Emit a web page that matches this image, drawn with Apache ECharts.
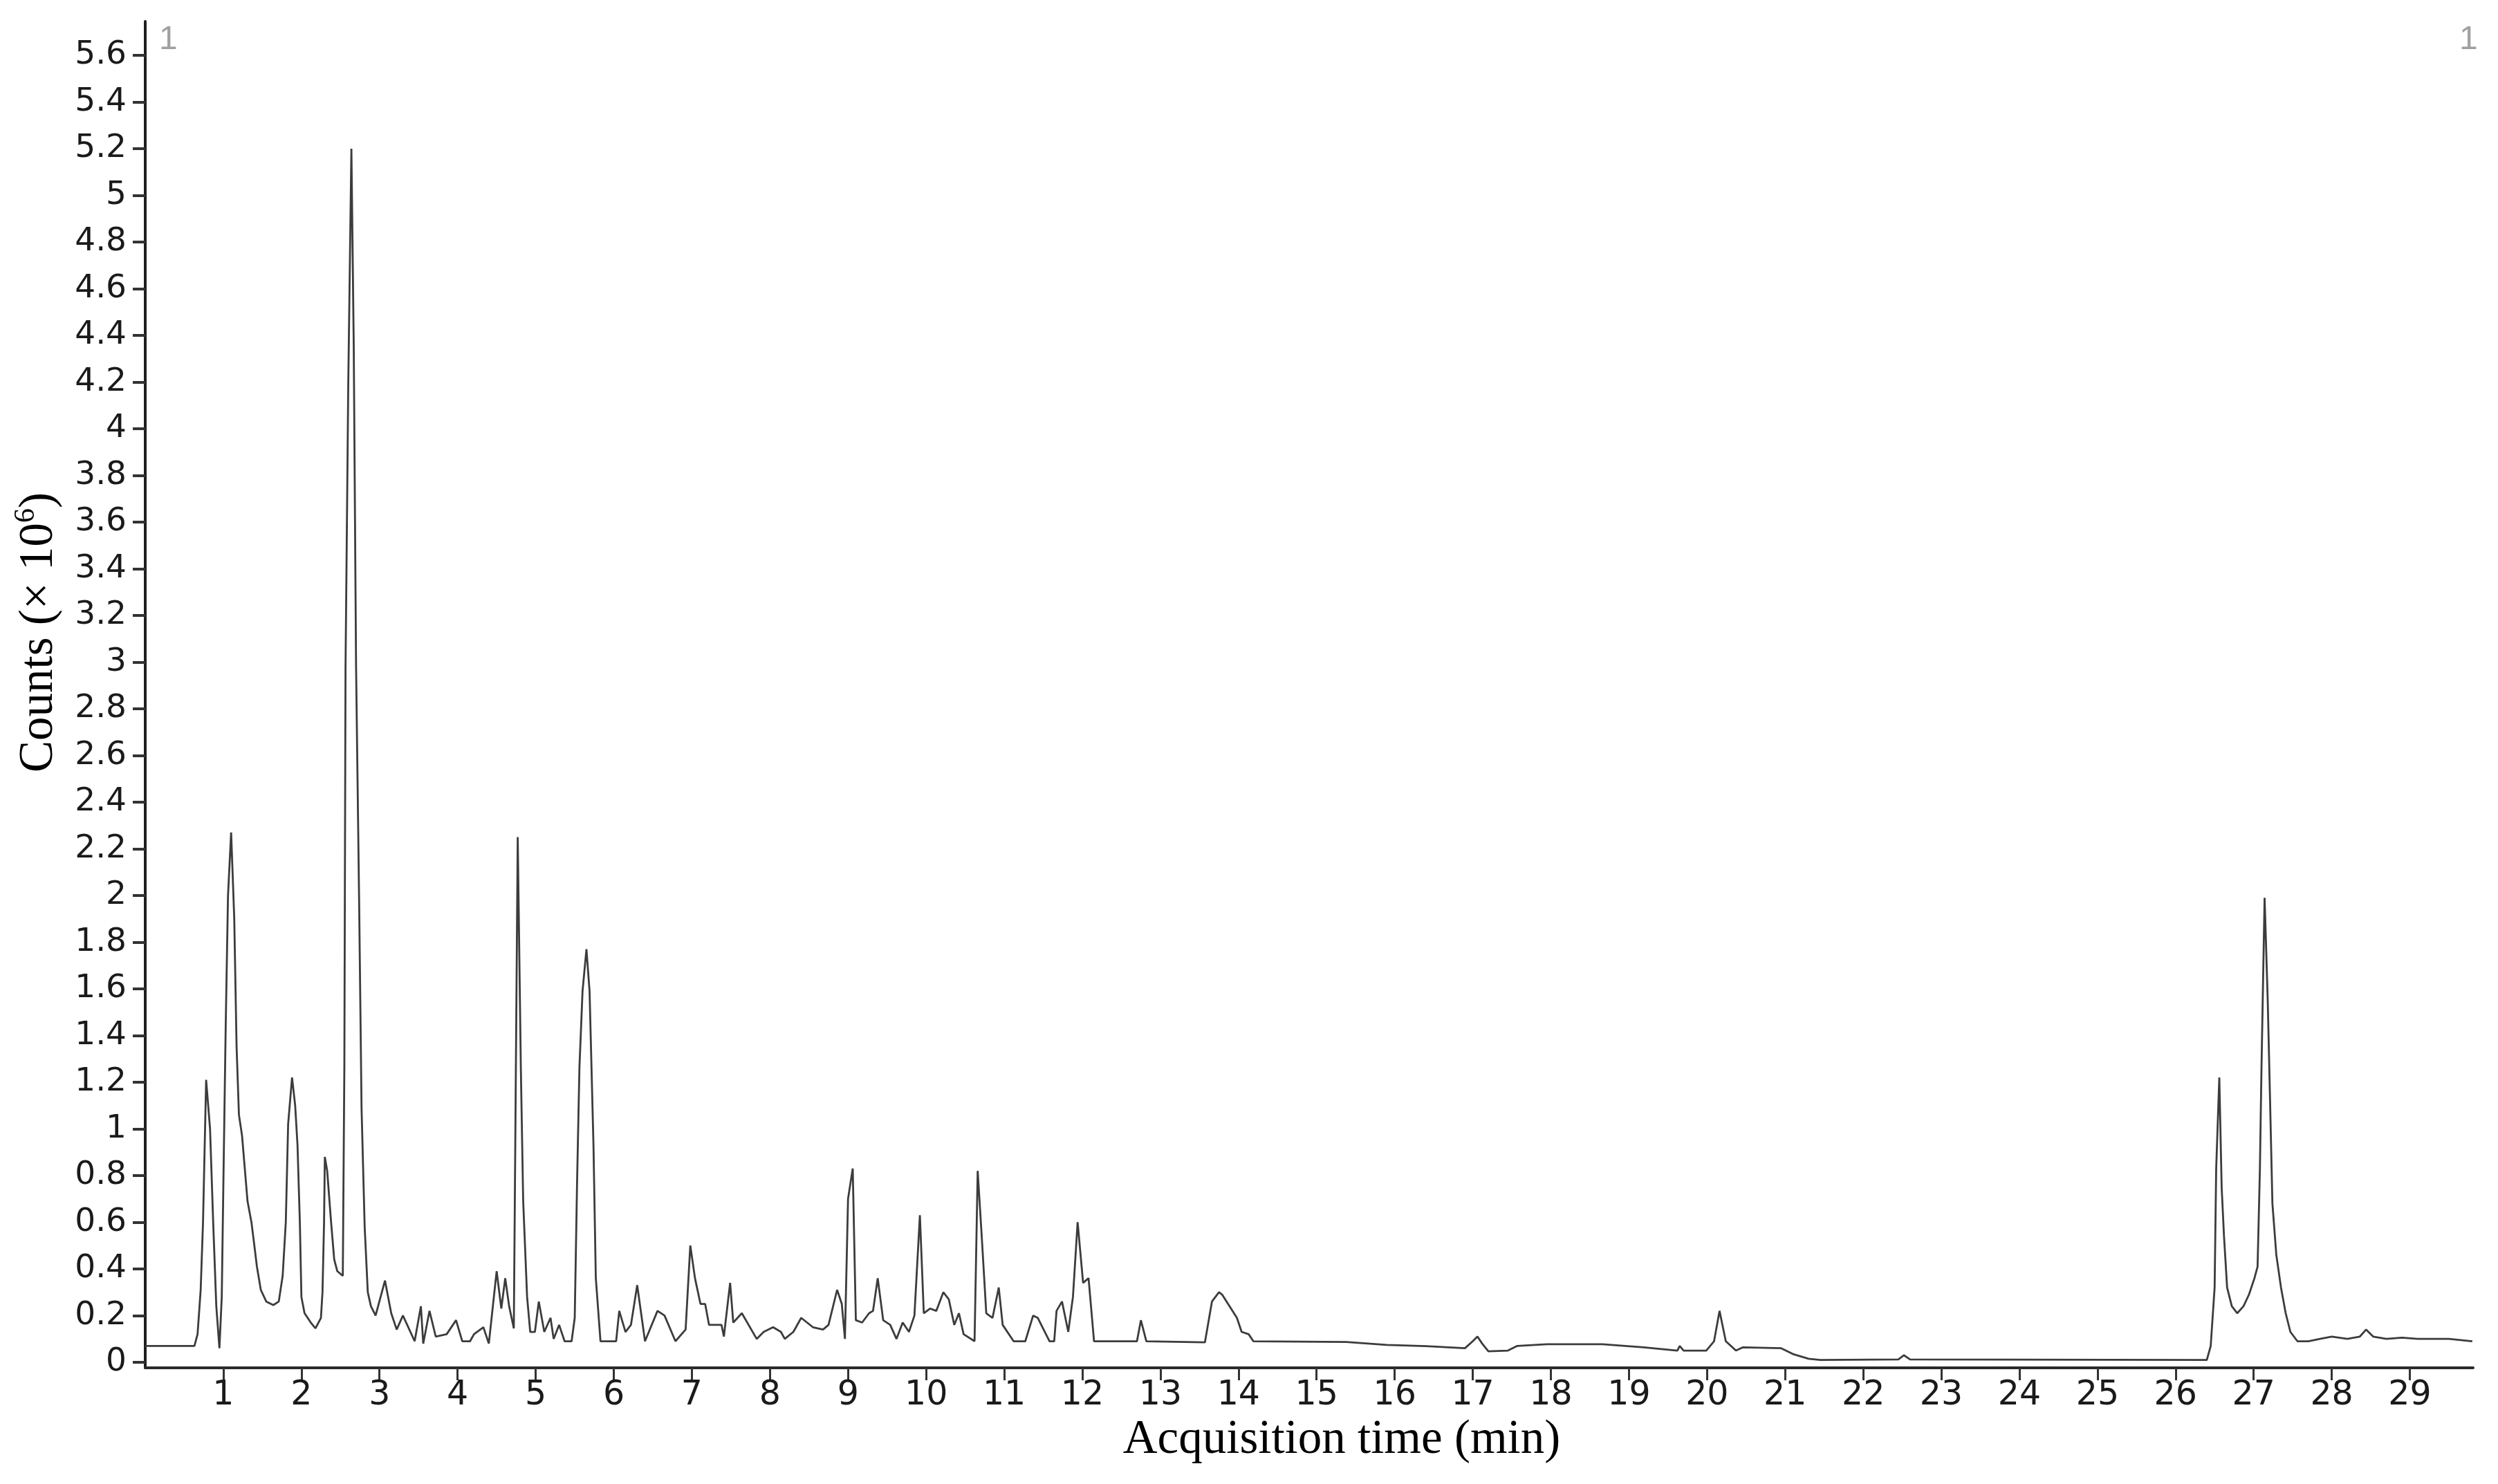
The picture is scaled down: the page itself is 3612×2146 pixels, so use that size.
<!DOCTYPE html>
<html>
<head>
<meta charset="utf-8">
<title>Chromatogram</title>
<script src="https://cdn.jsdelivr.net/npm/echarts@6/dist/echarts.min.js"></script>
<style>
  html, body { margin: 0; padding: 0; background: #fff; }
  #chart { width: 3612px; height: 2146px; }
</style>
</head>
<body>
<div id="chart"></div>
<script>
  // acquisition time (min)
  var times = [
    0.00, 0.20, 0.40, 0.63, 0.67, 0.71, 0.74, 0.78, 0.83, 0.87, 0.91, 0.95, 0.98,
    1.00, 1.03, 1.06, 1.10, 1.14, 1.17, 1.20, 1.24, 1.29, 1.31, 1.36, 1.39, 1.43, 1.48,
    1.55, 1.64, 1.71, 1.76, 1.80, 1.83, 1.88, 1.92, 1.95, 1.98,
    2.00, 2.04, 2.12, 2.18, 2.25, 2.27, 2.29, 2.30, 2.33, 2.38, 2.42, 2.46, 2.53,
    2.55, 2.565, 2.60, 2.64, 2.67, 2.70, 2.74, 2.77, 2.81, 2.85, 2.89, 2.95,
    3.07, 3.15, 3.22, 3.30, 3.45, 3.53, 3.56, 3.64, 3.72, 3.86, 3.98,
    4.06, 4.16, 4.21, 4.33, 4.40, 4.50, 4.56, 4.61, 4.66, 4.72, 4.77, 4.81, 4.84, 4.89, 4.93, 4.99,
    5.04, 5.11, 5.19, 5.23, 5.30, 5.37, 5.46, 5.50, 5.53, 5.56, 5.60, 5.65, 5.69, 5.74, 5.77, 5.83,
    6.03, 6.07, 6.15, 6.22, 6.30, 6.40, 6.56, 6.65, 6.79, 6.92, 6.98,
    7.04, 7.11, 7.17, 7.22, 7.38, 7.41, 7.49, 7.53, 7.64, 7.83, 7.92,
    8.04, 8.14, 8.19, 8.30, 8.40, 8.55, 8.68, 8.75, 8.86, 8.92, 8.96,
    9.00, 9.06, 9.10, 9.18, 9.27, 9.32, 9.38, 9.45, 9.54, 9.62, 9.70, 9.78, 9.85, 9.92, 9.97,
    10.05, 10.13, 10.22, 10.29, 10.36, 10.42, 10.48, 10.62, 10.66, 10.71, 10.77, 10.85, 10.93, 10.98,
    11.12, 11.27, 11.37, 11.43, 11.58, 11.64, 11.67, 11.74, 11.82, 11.88, 11.94,
    12.01, 12.08, 12.15, 12.70, 12.75, 12.82,
    13.57, 13.66, 13.75, 13.79, 13.98, 14.04, 14.13, 14.19,
    15.38, 15.90, 16.40, 16.90, 17.00, 17.06, 17.12, 17.20, 17.45, 17.57, 17.95,
    18.66, 19.19, 19.62, 19.65, 19.70, 19.99, 20.09, 20.16, 20.24, 20.37, 20.46, 20.95,
    21.10, 21.30, 21.45, 22.45, 22.52, 22.60,
    26.40, 26.45, 26.50, 26.52, 26.56, 26.59, 26.62, 26.66, 26.72, 26.79, 26.87, 26.94,
    27.01, 27.05, 27.08, 27.10, 27.14, 27.18, 27.21, 27.24, 27.29, 27.35, 27.41, 27.47, 27.56, 27.70, 27.85,
    28.00, 28.20, 28.36, 28.44, 28.53, 28.70, 28.90, 29.10, 29.30, 29.50, 29.80
  ];
  // counts (x 10^6)
  var counts = [
    0.07, 0.07, 0.07, 0.07, 0.12, 0.31, 0.60, 1.21, 1.00, 0.60, 0.24, 0.06, 0.28,
    0.75, 1.43, 2.00, 2.27, 1.90, 1.35, 1.06, 0.97, 0.77, 0.69, 0.60, 0.52, 0.41, 0.31,
    0.26, 0.245, 0.26, 0.37, 0.60, 1.02, 1.22, 1.10, 0.93, 0.60,
    0.28, 0.21, 0.17, 0.145, 0.19, 0.30, 0.60, 0.88, 0.82, 0.60, 0.44, 0.39, 0.37,
    1.27, 2.98, 4.19, 5.20, 4.36, 2.98, 1.95, 1.09, 0.58, 0.30, 0.24, 0.20,
    0.35, 0.21, 0.14, 0.20, 0.09, 0.24, 0.08, 0.22, 0.11, 0.12, 0.18,
    0.09, 0.09, 0.12, 0.15, 0.08, 0.39, 0.23, 0.36, 0.24, 0.145, 2.25, 1.26, 0.69, 0.28, 0.13, 0.13,
    0.26, 0.13, 0.19, 0.10, 0.16, 0.09, 0.09, 0.19, 0.77, 1.26, 1.59, 1.77, 1.59, 0.93, 0.36, 0.09,
    0.09, 0.22, 0.13, 0.16, 0.33, 0.09, 0.22, 0.20, 0.09, 0.14, 0.50,
    0.36, 0.25, 0.25, 0.16, 0.16, 0.11, 0.34, 0.17, 0.21, 0.10, 0.13,
    0.15, 0.13, 0.10, 0.13, 0.19, 0.15, 0.14, 0.16, 0.31, 0.25, 0.10,
    0.70, 0.83, 0.18, 0.17, 0.21, 0.22, 0.36, 0.18, 0.16, 0.10, 0.17, 0.13, 0.20, 0.63, 0.21,
    0.23, 0.22, 0.30, 0.27, 0.16, 0.21, 0.12, 0.09, 0.82, 0.55, 0.21, 0.19, 0.32, 0.16,
    0.09, 0.09, 0.20, 0.19, 0.09, 0.09, 0.22, 0.26, 0.13, 0.28, 0.60,
    0.34, 0.36, 0.09, 0.09, 0.18, 0.09,
    0.085, 0.26, 0.30, 0.29, 0.19, 0.13, 0.12, 0.09,
    0.087, 0.074, 0.069, 0.06, 0.09, 0.11, 0.08, 0.047, 0.05, 0.07, 0.077,
    0.077, 0.064, 0.05, 0.07, 0.05, 0.05, 0.09, 0.22, 0.09, 0.05, 0.064, 0.06,
    0.035, 0.015, 0.01, 0.012, 0.03, 0.012,
    0.01, 0.07, 0.32, 0.83, 1.22, 0.75, 0.54, 0.32, 0.24, 0.21, 0.24, 0.29,
    0.36, 0.41, 0.83, 1.26, 1.99, 1.55, 1.12, 0.68, 0.46, 0.32, 0.21, 0.13, 0.09, 0.09, 0.10,
    0.11, 0.10, 0.11, 0.14, 0.11, 0.10, 0.105, 0.10, 0.10, 0.10, 0.09
  ];
  var xTicks = [1, 2, 3, 4, 5, 6, 7, 8, 9, 10, 11, 12, 13, 14, 15, 16, 17, 18, 19, 20,
    21, 22, 23, 24, 25, 26, 27, 28, 29];
  var yTicks = [0, 0.2, 0.4, 0.6, 0.8, 1, 1.2, 1.4, 1.6, 1.8, 2, 2.2, 2.4, 2.6, 2.8, 3,
    3.2, 3.4, 3.6, 3.8, 4, 4.2, 4.4, 4.6, 4.8, 5, 5.2, 5.4, 5.6];

  var chart = echarts.init(document.getElementById('chart'));
  var seriesData = times.map(function (t, i) { return [t, counts[i]]; });

  var option = {
    animation: false,
    backgroundColor: '#fff',
    grid: { left: 210, right: 36, top: 31, bottom: 168 },
    xAxis: {
      type: 'value',
      min: 0,
      max: 29.81,
      splitLine: { show: false },
      axisLine: { show: true, onZero: false, lineStyle: { color: '#2a2a2a', width: 4 } },
      axisTick: { show: true, customValues: xTicks, length: 18, lineStyle: { color: '#333', width: 3 } },
      axisLabel: {
        customValues: xTicks,
        fontFamily: 'DejaVu Sans',
        fontSize: 49,
        color: '#1a1a1a',
        margin: 16
      },
      name: 'Acquisition time (min)',
      nameLocation: 'middle',
      nameGap: 68,
      nameTextStyle: {
        fontFamily: 'Liberation Serif',
        fontSize: 69,
        color: '#000',
        padding: [0, 0, 0, 94]
      }
    },
    yAxis: {
      type: 'value',
      min: -0.024,
      max: 5.745,
      splitLine: { show: false },
      axisLine: { show: true, onZero: false, lineStyle: { color: '#1e1e1e', width: 4 } },
      axisTick: { show: true, customValues: yTicks, length: 18, lineStyle: { color: '#333', width: 4 } },
      axisLabel: {
        customValues: yTicks,
        fontFamily: 'DejaVu Sans',
        fontSize: 47,
        color: '#1a1a1a',
        margin: 27,
        formatter: function (v) { return String(Math.round(v * 10) / 10); }
      },
      name: 'Counts (× 10{sup|6})',
      nameLocation: 'middle',
      nameGap: 100,
      nameTextStyle: {
        fontFamily: 'Liberation Serif',
        fontSize: 69,
        lineHeight: 80,
        color: '#000',
        padding: [0, 0, 0, 180],
        rich: {
          sup: { fontFamily: 'Liberation Serif', fontSize: 42, lineHeight: 42, verticalAlign: 'top', color: '#000' }
        }
      }
    },
    graphic: [
      { type: 'text', left: 230, top: 34, style: { text: '1', font: '48px "Liberation Sans"', fill: '#a0a0a0' } },
      { type: 'text', left: 3556, top: 34, style: { text: '1', font: '48px "Liberation Sans"', fill: '#a0a0a0' } }
    ],
    series: [{
      type: 'line',
      data: seriesData,
      showSymbol: false,
      sampling: 'none',
      lineStyle: { color: '#3c3c3c', width: 2.8 }
    }]
  };
  chart.setOption(option);
  window.onresize = function () {
    chart.resize();
  };
</script>
</body>
</html>
